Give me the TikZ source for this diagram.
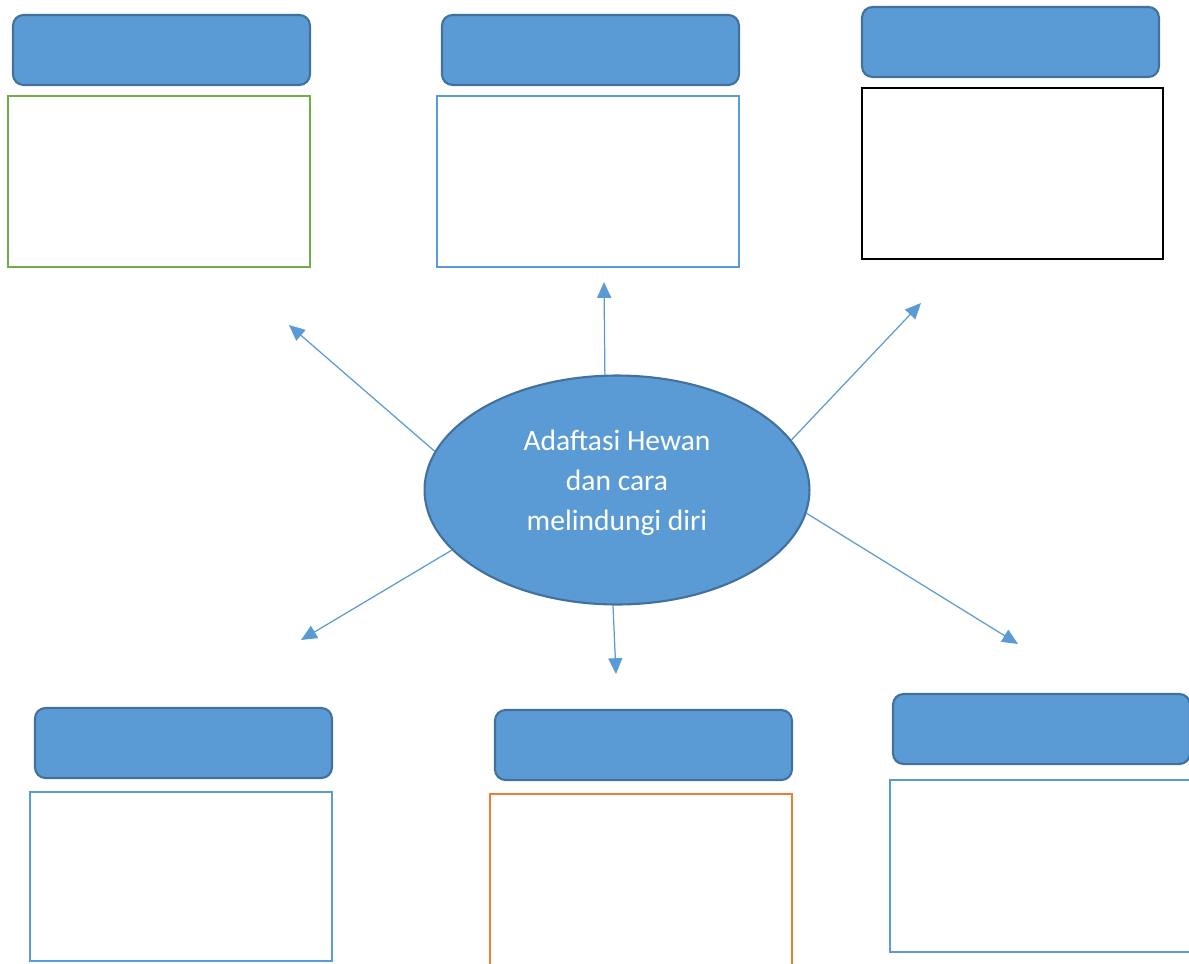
\documentclass[tikz,border=0pt]{standalone}
\usepackage{fontspec}
\setmainfont{Carlito}
\usetikzlibrary{shapes.geometric,arrows.meta}
\definecolor{fillblue}{HTML}{5B9BD5}
\definecolor{edgeblue}{HTML}{41719C}
\definecolor{boxgreen}{HTML}{70AD47}
\definecolor{boxorange}{HTML}{ED7D31}
\begin{document}
\begin{tikzpicture}[x=0.02cm,y=-0.02cm,>={Triangle[length=9pt,width=8pt]},
	judul/.style={draw=edgeblue,fill=fillblue,line width=1.2pt,rounded corners=6pt,minimum width=5.94cm,minimum height=1.4cm,anchor=north west,inner sep=0pt,outer sep=0pt},
	kotak/.style={draw=#1,line width=1pt,minimum width=6.04cm,minimum height=3.42cm,anchor=north west,inner sep=0pt,outer sep=0pt},
	panah/.style={->,draw=fillblue,fill=fillblue,line width=0.7pt}]
	\useasboundingbox (0,0) rectangle (1189,963);
	\clip (0,0) rectangle (1189,963);
	% kotak atas
	\node[judul] (h1) at (13,15) {};
	\node[kotak=boxgreen] (b1) at (8,96) {};
	\node[judul] (h2) at (442,15) {};
	\node[kotak=fillblue] (b2) at (437,96) {};
	\node[judul] (h3) at (862,7) {};
	\node[kotak=black,minimum width=6.02cm] (b3) at (862,88) {};
	% kotak bawah
	\node[judul] (h4) at (35,708) {};
	\node[kotak=fillblue,minimum height=3.38cm] (b4) at (30,792) {};
	\node[judul] (h5) at (495,710) {};
	\node[kotak=boxorange,minimum height=4cm] (b5) at (490,794) {};
	\node[judul] (h6) at (893,694) {};
	\node[kotak=fillblue,minimum width=6.4cm,minimum height=3.44cm] (b6) at (890,780) {};
	% pusat
	\node[ellipse,draw=edgeblue,fill=fillblue,line width=1.2pt,minimum width=7.7cm,minimum height=4.58cm,inner sep=0pt] (ell) at (617,490) {};
	\node[text=white,align=center,font=\fontsize{16.8}{22.8}\selectfont] (teks) at (617,483) {Adaftasi Hewan\\dan cara\\melindungi diri};
	\coordinate (t1) at (289,325);
	\coordinate (t2) at (604,282);
	\coordinate (t3) at (921,303);
	\coordinate (t4) at (301,640);
	\coordinate (t5) at (616,674);
	\coordinate (t6) at (1018,644);
	\draw[panah] (ell.168)--(t1);
	\draw[panah] (ell.96)--(t2);
	\draw[panah] (ell.16)--(t3);
	\draw[panah] (ell.200)--(t4);
	\draw[panah] (ell.268)--(t5);
	\draw[panah] (ell.353)--(t6);
\end{tikzpicture}
\end{document}
